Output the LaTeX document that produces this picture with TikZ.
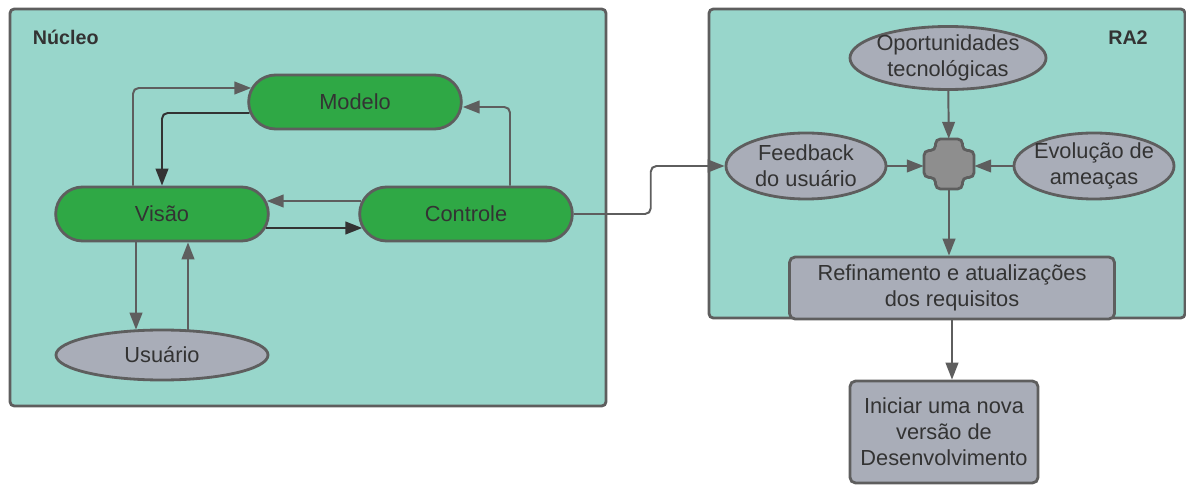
\documentclass[tikz,border=0pt]{standalone}
\usepackage{fontspec}
\setmainfont{Liberation Sans}
\usetikzlibrary{arrows.meta,positioning,shapes.geometric,shapes.misc,calc}

\definecolor{frameteal}{HTML}{98D6CB}
\definecolor{edgegray}{HTML}{5E5E5E}
\definecolor{pillgreen}{HTML}{2FA845}
\definecolor{nodegray}{HTML}{A9ADB8}
\definecolor{hubgray}{HTML}{8E8E8E}
\definecolor{inkdark}{HTML}{333333}

\newcommand{\nodefont}{\fontsize{15.5}{18.5}\selectfont}

\tikzset{
  frame/.style={draw=edgegray,line width=2pt,fill=frameteal,rounded corners=3pt},
  title/.style={text=inkdark,font=\fontsize{14}{17}\selectfont\bfseries},
  pill/.style={rounded rectangle,draw=edgegray,line width=2pt,fill=pillgreen,
    minimum width=5.55cm,minimum height=1.35cm,text=inkdark,font=\nodefont},
  oval/.style={ellipse,draw=edgegray,line width=2pt,fill=nodegray,inner sep=0pt,
    text=inkdark,font=\nodefont},
  ovaltext/.style={text=inkdark,font=\nodefont,align=center},
  box/.style={rectangle,rounded corners=4pt,draw=edgegray,line width=2pt,fill=nodegray,
    text=inkdark,align=center,font=\nodefont},
  hubshape/.style={draw=edgegray,line width=2pt,fill=hubgray,rounded corners=3.5pt},
  flow/.style={draw=edgegray,line width=1.4pt,rounded corners=4pt,
    -{Triangle[length=12pt,width=9pt]}},
  flowdark/.style={flow,draw=inkdark}
}

\begin{document}
\begin{tikzpicture}[x=0.025cm,y=-0.025cm]
  \useasboundingbox[fill=white] (0,0) rectangle (1186,485);

  % Núcleo: model, view, controller
  \draw[frame] (10,9) rectangle (606,406);
  \node[title,anchor=west] (nucleo) at (28,37) {Núcleo};

  \node[pill] (modelo) at (355,102) {Modelo};
  \node[pill] (visao) at (162,214) {Visão};
  \node[pill] (controle) at (466,214) {Controle};
  \node[oval,minimum width=5.3cm,minimum height=1.25cm] (usuario) at (162,355) {Usuário};

  \draw[flow] ($(visao.north)+(-29,0)$) |- ($(modelo.west)+(4,-14)$);
  \draw[flowdark] ($(modelo.west)+(2,11)$) -| (visao.north);
  \draw[flow] ($(controle.north)+(44,0)$) |- ($(modelo.east)+(0,5)$);
  \draw[flow] ($(controle.west)+(3,-13)$) -- ($(visao.east)+(-3,-13)$);
  \draw[flowdark] ($(visao.east)+(-4,14)$) -- ($(controle.west)+(4,14)$);
  \draw[flow] ($(visao.south)+(-26,0)$) -- ($(usuario.north)+(-26,1)$);
  \draw[flow] ($(usuario.north)+(26,1)$) -- ($(visao.south)+(26,0)$);

  % RA2: inputs to the refinement
  \draw[frame] (709,9) rectangle (1185,318);
  \node[title] (ra2) at (1128,38) {RA2};

  \node[oval,minimum width=4.9cm,minimum height=1.575cm,
    label={[ovaltext]center:Oportunidades\\tecnológicas}] (oport) at (948,58) {};
  \node[oval,minimum width=4.0cm,minimum height=1.65cm,
    label={[ovaltext]center:Feedback\\do usuário}] (feedback) at (806,166) {};
  \node[oval,minimum width=4.0cm,minimum height=1.65cm,
    label={[ovaltext]center:Evolução de\\ameaças}] (evolucao) at (1094,166) {};

  \node[minimum size=1.25cm,inner sep=0pt] (hub) at (949,164) {};
  \begin{scope}[shift={(hub.center)}]
    \draw[hubshape] (-13.5,-25) -- (13.5,-25) -- (13.5,-13.5) -- (25,-13.5) -- (25,13.5)
      -- (13.5,13.5) -- (13.5,25) -- (-13.5,25) -- (-13.5,13.5) -- (-25,13.5)
      -- (-25,-13.5) -- (-13.5,-13.5) -- cycle;
  \end{scope}

  \node[box,minimum width=8.125cm,minimum height=1.55cm] (refin) at (952,288)
    {Refinamento e atualizações\\dos requisitos};
  \node[box,minimum width=4.7cm,minimum height=2.55cm] (iniciar) at (944,432)
    {Iniciar uma nova\\versão de\\Desenvolvimento};

  \draw[flow] (oport) -- (hub);
  \draw[flow] (feedback.east) -- (hub.west |- feedback.east);
  \draw[flow] (evolucao.west) -- (hub.east |- evolucao.west);
  \draw[flow] (hub.south) -- (hub.south |- refin.north);
  \draw[flow] (refin.south) -- (refin.south |- iniciar.north);

  % hand-off from the controller
  \draw[flow] (controle.east) -- ++(77,0) |- (feedback.west);
\end{tikzpicture}
\end{document}
